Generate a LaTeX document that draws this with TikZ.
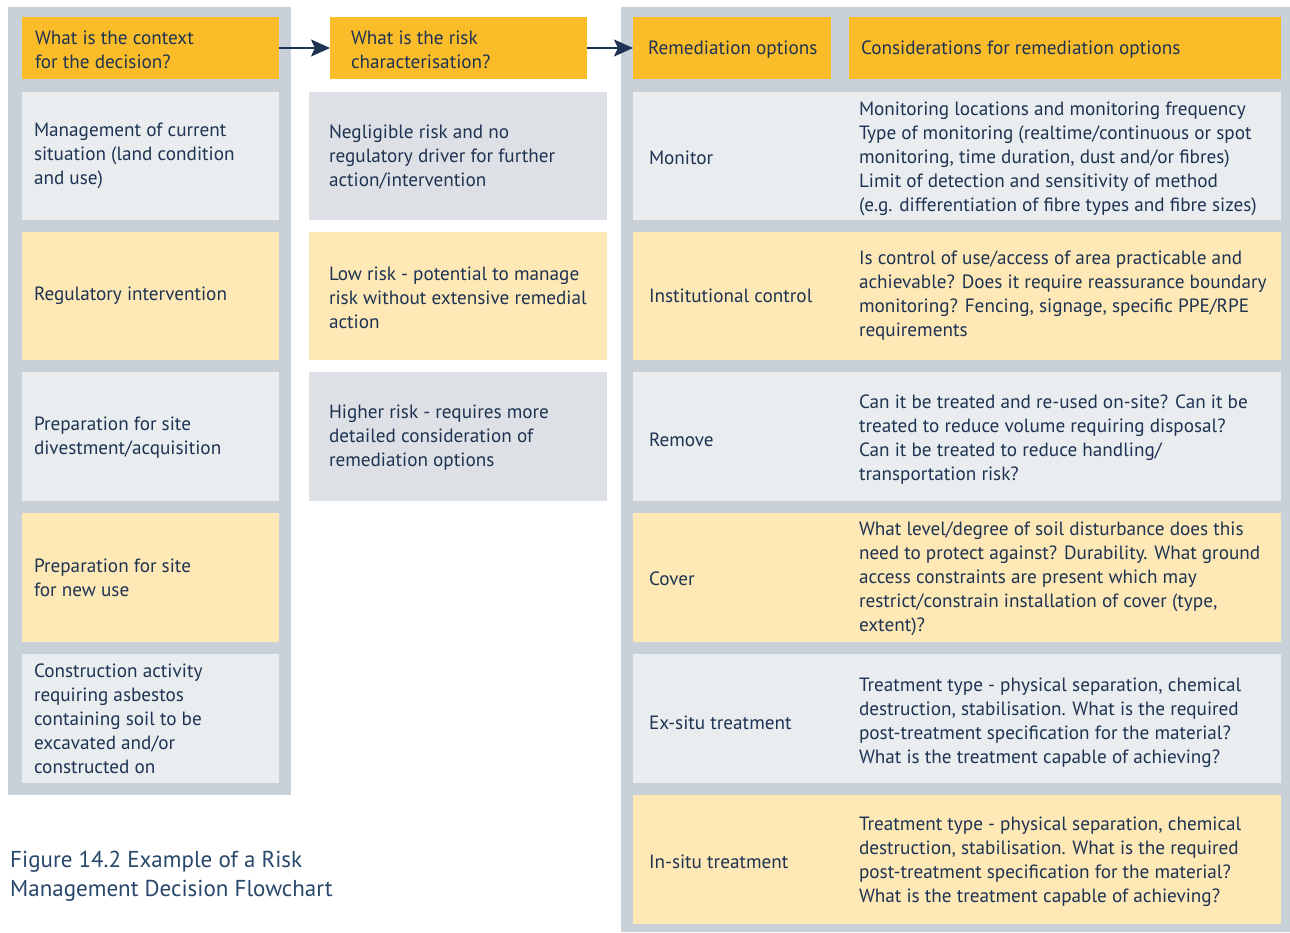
\documentclass[tikz,border=0pt]{standalone}
\usepackage{fontspec}
\setmainfont{PT Sans}
\usetikzlibrary{arrows.meta}
\definecolor{orangeH}{HTML}{FBBC2A}
\definecolor{yellowB}{HTML}{FDE8B6}
\definecolor{greyB}{HTML}{E9EDF0}
\definecolor{greyM}{HTML}{DDE1E5}
\definecolor{panelG}{HTML}{C8D0D8}
\definecolor{navy}{HTML}{1E3352}
\definecolor{capC}{HTML}{27476B}
\tikzset{
  panel/.style={fill=panelG, draw=none, inner sep=0pt, outer sep=0pt},
  cell/.style={draw=none, inner sep=0pt, outer sep=0pt},
  txt/.style={anchor=west, align=left, inner sep=0pt, outer sep=0pt, text=navy,
    font=\fontsize{19.2}{24}\selectfont},
  captxt/.style={anchor=west, align=left, inner sep=0pt, text=capC,
    font=\fontsize{23}{29}\selectfont},
  arr/.style={draw=navy, line width=2pt, -{Stealth[length=19pt,width=17pt,inset=4pt]}}
}
% \bx{name}{fill}{x1}{y1}{x2}{y2}
\newcommand{\bx}[6]{%
  \node[cell, fill=#2, minimum width={(#5-#3)*1pt}, minimum height={(#6-#4)*1pt}]
    (#1) at ({(#3+#5)/2},{(#4+#6)/2}) {};}
\begin{document}
\begin{tikzpicture}[x=1pt,y=-1pt]
\useasboundingbox[fill=white] (0,0) rectangle (1290,932);
% panels
\bx{pl}{panelG}{8}{7}{291}{795}
\bx{pr}{panelG}{621}{7}{1290}{932}
% left column
\bx{h1}{orangeH}{22}{17}{279}{79}
\bx{l1}{greyB}{22}{92}{279}{220}
\bx{l2}{yellowB}{22}{232}{279}{360}
\bx{l3}{greyB}{22}{372}{279}{501}
\bx{l4}{yellowB}{22}{513}{279}{642}
\bx{l5}{greyB}{22}{654}{279}{783}
% middle column
\bx{h2}{orangeH}{330}{17}{587}{79}
\bx{m1}{greyM}{309}{92}{607}{220}
\bx{m2}{yellowB}{309}{232}{607}{360}
\bx{m3}{greyM}{309}{372}{607}{501}
% right column
\bx{h3}{orangeH}{633}{17}{831}{79}
\bx{h4}{orangeH}{849}{17}{1281}{79}
\bx{r1}{greyB}{633}{92}{1281}{220}
\bx{r2}{yellowB}{633}{232}{1281}{360}
\bx{r3}{greyB}{633}{372}{1281}{501}
\bx{r4}{yellowB}{633}{513}{1281}{642}
\bx{r5}{greyB}{633}{654}{1281}{783}
\bx{r6}{yellowB}{633}{795}{1281}{924}
% arrows
\draw[arr] (h1.east) -- (h2.west);
\draw[arr] (h2.east) -- (h3.west);
% header texts
\node[txt] (th1) at (35,50) {What is the context\\for the decision?};
\node[txt] (th2) at (351,50) {What is the risk\\characterisation?};
\node[txt] (th3) at (648,50) {Remediation options};
\node[txt] (th4) at (861,50) {Considerations for remediation options};
% left texts
\node[txt] (tl1) at (34,156) {Management of current\\situation (land condition\\and use)};
\node[txt] (tl2) at (34,296) {Regulatory intervention};
\node[txt] (tl3) at (34,438) {Preparation for site\\divestment/acquisition};
\node[txt] (tl4) at (34,578) {Preparation for site\\for new use};
\node[txt] (tl5) at (34,719) {Construction activity\\requiring asbestos\\containing soil to be\\excavated and/or\\constructed on};
% middle texts
\node[txt] (tm1) at (329,157) {Negligible risk and no\\regulatory driver for further\\action/intervention};
\node[txt] (tm2) at (329,298) {Low risk - potential to manage\\risk without extensive remedial\\action};
\node[txt] (tm3) at (329,438) {Higher risk - requires more\\detailed consideration of\\remediation options};
% right labels
\node[txt] (ta1) at (649,158) {Monitor};
\node[txt] (ta2) at (649,296) {Institutional control};
\node[txt] (ta3) at (649,440) {Remove};
\node[txt] (ta4) at (649,579) {Cover};
\node[txt] (ta5) at (649,723) {Ex-situ treatment};
\node[txt] (ta6) at (649,862) {In-situ treatment};
% right considerations
\node[txt] (tc1) at (859,159) {Monitoring locations and monitoring frequency\\Type of monitoring (realtime/continuous or spot\\monitoring, time duration, dust and/or fibres)\\Limit of detection and sensitivity of method\\(e.g. differentiation of fibre types and fibre sizes)};
\node[txt] (tc2) at (859,296) {Is control of use/access of area practicable and\\achievable? Does it require reassurance boundary\\monitoring? Fencing, signage, specific PPE/RPE\\requirements};
\node[txt] (tc3) at (859,440) {Can it be treated and re-used on-site? Can it be\\treated to reduce volume requiring disposal?\\Can it be treated to reduce handling/\\transportation risk?};
\node[txt] (tc4) at (859,579) {What level/degree of soil disturbance does this\\need to protect against? Durability. What ground\\access constraints are present which may\\restrict/constrain installation of cover (type,\\extent)?};
\node[txt] (tc5) at (859,723) {Treatment type - physical separation, chemical\\destruction, stabilisation. What is the required\\post-treatment specification for the material?\\What is the treatment capable of achieving?};
\node[txt] (tc6) at (859,862) {Treatment type - physical separation, chemical\\destruction, stabilisation. What is the required\\post-treatment specification for the material?\\What is the treatment capable of achieving?};
% caption
\node[captxt] (cap) at (10,876) {Figure 14.2 Example of a Risk\\Management Decision Flowchart};
\end{tikzpicture}
\end{document}
